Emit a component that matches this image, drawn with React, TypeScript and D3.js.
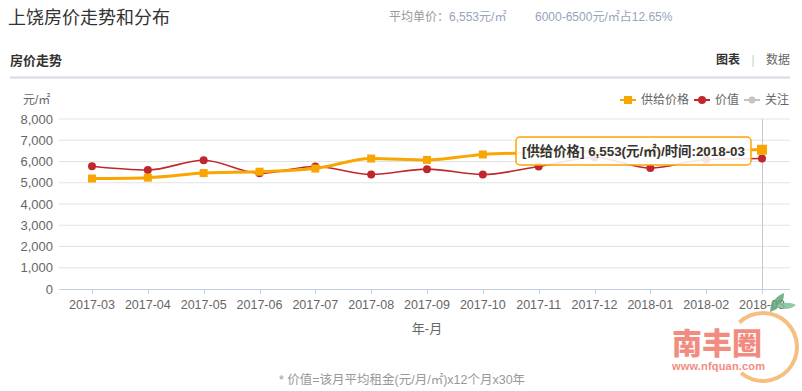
import { useEffect, useRef } from 'react'
import * as d3 from 'd3'

const months = ['2017-03', '2017-04', '2017-05', '2017-06', '2017-07', '2017-08', '2017-09', '2017-10', '2017-11', '2017-12', '2018-01', '2018-02', '2018-03']
const supplyPrice = [5200, 5240, 5455, 5520, 5670, 6140, 6075, 6330, 6420, 6480, 6500, 6530, 6553]
const valuePrice = [5780, 5600, 6060, 5450, 5765, 5390, 5640, 5390, 5765, 6190, 5690, 6095, 6140]
const yTicks = [0, 1000, 2000, 3000, 4000, 5000, 6000, 7000, 8000]

const FONT = "'Liberation Sans', 'Noto Sans CJK SC', sans-serif"
const ORANGE = '#f9a602'
const RED = '#c0272d'

export default function App() {
  const svgRef = useRef<SVGSVGElement>(null)

  useEffect(() => {
    document.body.style.margin = '0'
    if (!svgRef.current) return
    const svg = d3.select(svgRef.current)
    svg.selectAll('*').remove()
    svg.style('font-family', FONT)

    const left = 59, right = 790, top = 119, bottom = 289

    // header
    svg.append('text').attr('x', 8).attr('y', 18).attr('dominant-baseline', 'central')
      .style('font-size', '18px').style('fill', '#333').text('上饶房价走势和分布')
    const hdr = svg.append('text').attr('x', 389).attr('y', 17).attr('dominant-baseline', 'central').style('font-size', '12px')
    hdr.append('tspan').style('fill', '#999').text('平均单价：')
    hdr.append('tspan').style('fill', '#97a4bb').text('6,553元/㎡')
    svg.append('text').attr('x', 535).attr('y', 17).attr('dominant-baseline', 'central')
      .style('font-size', '12px').style('fill', '#97a4bb').text('6000-6500元/㎡占12.65%')

    svg.append('text').attr('x', 10).attr('y', 60).attr('dominant-baseline', 'central')
      .style('font-size', '13px').style('font-weight', 'bold').style('fill', '#333').text('房价走势')
    svg.append('text').attr('x', 716).attr('y', 60).attr('dominant-baseline', 'central')
      .style('font-size', '12px').style('font-weight', 'bold').style('fill', '#333').text('图表')
    svg.append('text').attr('x', 753).attr('y', 60).attr('dominant-baseline', 'central').attr('text-anchor', 'middle')
      .style('font-size', '12px').style('fill', '#ccc').text('|')
    svg.append('text').attr('x', 766).attr('y', 60).attr('dominant-baseline', 'central')
      .style('font-size', '12px').style('fill', '#666').text('数据')
    svg.append('line').attr('x1', 10).attr('x2', 790).attr('y1', 77.5).attr('y2', 77.5)
      .attr('stroke', '#d6d9e6').attr('stroke-width', 2)

    const x = d3.scalePoint<string>().domain(months).range([92, 762])
    const y = d3.scaleLinear().domain([0, 8000]).range([bottom, top])

    // grid + y labels
    const fmt = d3.format(',')
    yTicks.forEach(t => {
      if (t > 0) {
        svg.append('line').attr('x1', left).attr('x2', right).attr('y1', y(t)).attr('y2', y(t))
          .attr('stroke', '#e3e3e3').attr('stroke-width', 1)
      }
      svg.append('text').attr('x', 53).attr('y', y(t)).attr('dominant-baseline', 'central').attr('text-anchor', 'end')
        .style('font-size', '13px').style('fill', '#666').text(fmt(t))
    })
    svg.append('text').attr('x', 23).attr('y', 100).attr('dominant-baseline', 'central')
      .style('font-size', '12px').style('fill', '#666').text('元/㎡')

    // x axis
    svg.append('line').attr('x1', left).attr('x2', right).attr('y1', bottom + 0.5).attr('y2', bottom + 0.5)
      .attr('stroke', '#c0d0e0').attr('stroke-width', 1)
    months.forEach(m => {
      const px = Math.round(x(m)!) + 0.5
      svg.append('line').attr('x1', px).attr('x2', px).attr('y1', bottom).attr('y2', bottom + 5)
        .attr('stroke', '#c0d0e0')
      svg.append('text').attr('x', x(m)!).attr('y', 305).attr('dominant-baseline', 'central').attr('text-anchor', 'middle')
        .style('font-size', '12.5px').style('fill', '#666').text(m)
    })
    svg.append('text').attr('x', 427).attr('y', 328).attr('dominant-baseline', 'central').attr('text-anchor', 'middle')
      .style('font-size', '13px').style('fill', '#666').text('年-月')

    // crosshair
    const cx = Math.round(x('2018-03')!) + 0.5
    svg.append('line').attr('x1', cx).attr('x2', cx).attr('y1', top).attr('y2', bottom)
      .attr('stroke', '#c8c8c8').attr('stroke-width', 1)

    // series
    const line = d3.line<number>().x((_, i) => x(months[i])!).y(d => y(d)).curve(d3.curveMonotoneX)
    svg.append('path').datum(valuePrice).attr('d', line).attr('fill', 'none').attr('stroke', RED).attr('stroke-width', 1.6)
    svg.selectAll('.vdot').data(valuePrice).enter().append('circle')
      .attr('cx', (_, i) => x(months[i])!).attr('cy', d => y(d)).attr('r', 4).attr('fill', RED)

    svg.append('path').datum(supplyPrice).attr('d', line).attr('fill', 'none').attr('stroke', ORANGE).attr('stroke-width', 3)
    svg.selectAll('.sdot').data(supplyPrice).enter().append('rect')
      .attr('x', (_, i) => x(months[i])! - (i === months.length - 1 ? 5 : 4))
      .attr('y', (d, i) => y(d) - (i === months.length - 1 ? 5 : 4))
      .attr('width', (_, i) => i === months.length - 1 ? 10 : 8)
      .attr('height', (_, i) => i === months.length - 1 ? 10 : 8)
      .attr('fill', ORANGE)

    // legend
    const legend = [
      { name: '供给价格', color: ORANGE, shape: 'rect', x: 620 },
      { name: '价值', color: RED, shape: 'circle', x: 694 },
      { name: '关注', color: '#c4c4c4', shape: 'circle', x: 744 },
    ]
    legend.forEach(l => {
      const g = svg.append('g').attr('transform', `translate(${l.x},100)`)
      g.append('line').attr('x1', 0).attr('x2', 16).attr('stroke', l.color).attr('stroke-width', 2)
      if (l.shape === 'rect') g.append('rect').attr('x', 4).attr('y', -4).attr('width', 8).attr('height', 8).attr('fill', l.color)
      else g.append('circle').attr('cx', 8).attr('r', l.name === '关注' ? 3.5 : 4).attr('fill', l.color)
      g.append('text').attr('x', 21).attr('dominant-baseline', 'central')
        .style('font-size', '12px').style('fill', '#666').text(l.name)
    })

    // tooltip
    const tip = svg.append('g').attr('transform', 'translate(516,137)')
    tip.append('rect').attr('width', 235).attr('height', 28).attr('rx', 4)
      .attr('fill', 'rgba(255,255,255,0.88)').attr('stroke', ORANGE).attr('stroke-width', 1.5)
    tip.append('text').attr('x', 6).attr('y', 14).attr('dominant-baseline', 'central')
      .attr('textLength', 223).attr('lengthAdjust', 'spacingAndGlyphs')
      .style('font-size', '13.5px').style('font-weight', 'bold').style('fill', '#333')
      .text(`[供给价格] ${fmt(supplyPrice[12])}(元/㎡)/时间:${months[12]}`)

    // footer note
    svg.append('text').attr('x', 402).attr('y', 380).attr('dominant-baseline', 'central').attr('text-anchor', 'middle')
      .style('font-size', '12.5px').style('fill', '#999').text('* 价值=该月平均租金(元/月/㎡)x12个月x30年')

    // watermark
    const wm = svg.append('g').attr('opacity', 0.85)
    const arc = d3.arc()({ innerRadius: 32, outerRadius: 36, startAngle: -44 * Math.PI / 180, endAngle: 220 * Math.PI / 180 })
    wm.append('path').attr('d', arc!).attr('transform', 'translate(763,347)').attr('fill', '#f5b36a')
    wm.append('path').attr('d', 'M770,312 C770,302 777,296 784,293 C784,303 779,309 770,312 Z').attr('fill', '#5fa67a')
    wm.append('path').attr('d', 'M776,306 C782,302 790,302 796,305 C790,310 782,310 776,306 Z').attr('fill', '#7fbf95')
    wm.append('text').attr('x', 672).attr('y', 343).attr('dominant-baseline', 'central')
      .attr('textLength', 90).attr('lengthAdjust', 'spacingAndGlyphs')
      .style('font-size', '30px').style('font-weight', '900').style('fill', '#f0796b').text('南丰圈')
    wm.append('text').attr('x', 672).attr('y', 366).attr('dominant-baseline', 'central').attr('textLength', 93)
      .style('font-size', '11px').style('font-weight', 'bold').style('fill', '#f0796b').text('www.nfquan.com')
  }, [])

  return (
    <svg ref={svgRef} width={802} height={391} style={{ display: 'block', background: '#fff' }} />
  )
}
